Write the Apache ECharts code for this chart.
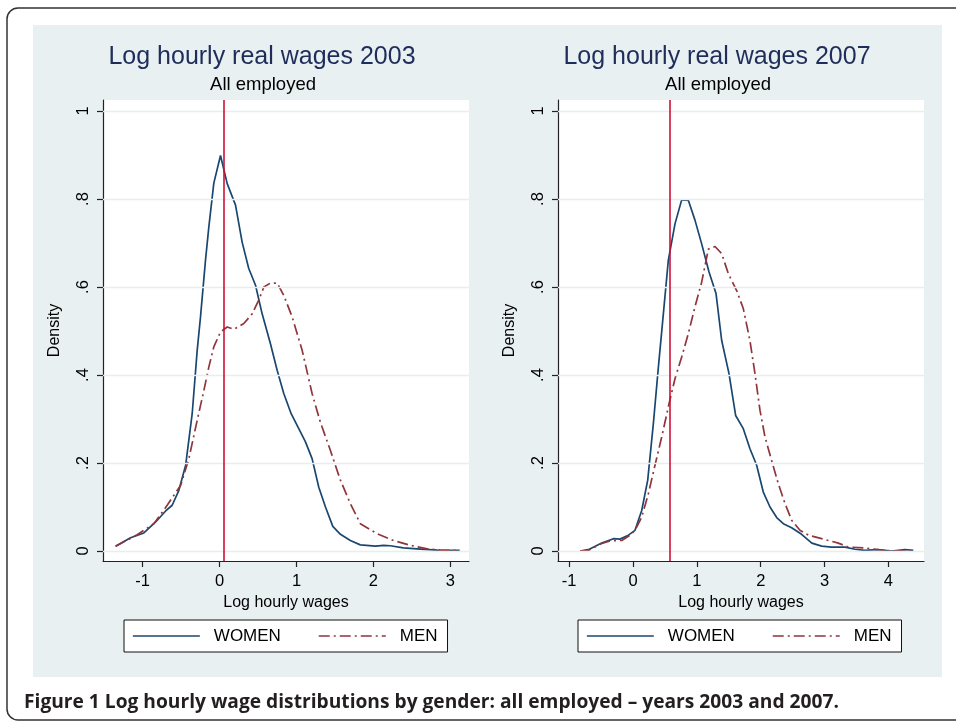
<!DOCTYPE html>
<html>
<head>
<meta charset="utf-8">
<script src="https://cdn.jsdelivr.net/npm/echarts@6/dist/echarts.min.js"></script>
<style>
html,body{margin:0;padding:0;background:#fff;}
#chart{width:956px;height:723px;}
</style>
</head>
<body>
<div id="chart"></div>
<script>
// ---- Data ----
const women2003X = [-1.35,-1.156,-0.983,-0.83,-0.70,-0.615,-0.528,-0.44,-0.355,-0.29,-0.247,-0.182,-0.139,-0.074,0.013,0.10,0.208,0.294,0.38,0.468,0.554,0.662,0.749,0.835,0.931,1.03,1.117,1.203,1.29,1.377,1.472,1.571,1.70,1.83,2.026,2.134,2.22,2.39,2.61,2.83,3.12];
const women2003Y = [0.011,0.030,0.041,0.066,0.091,0.104,0.138,0.195,0.312,0.456,0.532,0.661,0.736,0.836,0.899,0.835,0.786,0.702,0.642,0.604,0.539,0.471,0.411,0.358,0.312,0.278,0.248,0.210,0.145,0.100,0.056,0.038,0.024,0.014,0.011,0.013,0.012,0.007,0.0045,0.002,0.0015];
const men2003X = [-1.35,-1.07,-0.853,-0.68,-0.506,-0.398,-0.29,-0.203,-0.139,-0.074,0.013,0.10,0.186,0.316,0.424,0.51,0.576,0.662,0.749,0.835,0.944,1.074,1.203,1.31,1.44,1.571,1.70,1.83,2.05,2.26,2.48,2.70,2.87,3.12];
const men2003Y = [0.011,0.037,0.062,0.104,0.149,0.210,0.297,0.365,0.418,0.464,0.498,0.509,0.504,0.517,0.539,0.570,0.600,0.609,0.609,0.581,0.532,0.456,0.358,0.293,0.229,0.161,0.108,0.062,0.039,0.024,0.013,0.005,0.002,0.0015];
const women2007X = [-0.83,-0.70,-0.49,-0.308,-0.204,-0.073,0.031,0.136,0.23,0.318,0.397,0.475,0.553,0.658,0.762,0.866,0.97,1.075,1.19,1.30,1.388,1.503,1.607,1.727,1.83,1.936,2.04,2.145,2.25,2.354,2.484,2.64,2.80,2.954,3.11,3.32,3.476,3.63,3.84,4.05,4.26,4.39];
const women2007Y = [0.0,0.003,0.018,0.028,0.027,0.036,0.047,0.092,0.161,0.289,0.418,0.539,0.661,0.744,0.798,0.797,0.752,0.698,0.634,0.585,0.479,0.403,0.308,0.278,0.233,0.195,0.134,0.100,0.076,0.062,0.053,0.038,0.018,0.011,0.009,0.009,0.004,0.0015,0.003,0.0,0.003,0.0015];
const men2007X = [-0.83,-0.70,-0.49,-0.36,-0.177,-0.047,0.031,0.136,0.24,0.344,0.449,0.564,0.658,0.762,0.866,0.97,1.075,1.18,1.284,1.388,1.493,1.623,1.727,1.83,1.91,1.988,2.067,2.17,2.275,2.38,2.484,2.614,2.745,2.954,3.215,3.37,3.63,3.84,4.05,4.39];
const men2007Y = [0.0,0.0015,0.017,0.023,0.024,0.036,0.047,0.077,0.130,0.195,0.259,0.335,0.392,0.441,0.494,0.555,0.611,0.686,0.692,0.676,0.630,0.592,0.551,0.479,0.403,0.320,0.259,0.206,0.153,0.108,0.070,0.047,0.036,0.028,0.018,0.009,0.007,0.003,0.0,0.0];
const xTicks2003 = [-1, 0, 1, 2, 3];
const xTicks2007 = [-1, 0, 1, 2, 3, 4];
const yTicks = [0, 0.2, 0.4, 0.6, 0.8, 1];
const refLines = [0.052, 0.58];
const panelTitles = ['Log hourly real wages 2003', 'Log hourly real wages 2007'];
const panelSubtitle = 'All employed';
const seriesNames = ['WOMEN', 'MEN'];
const xAxisTitle = 'Log hourly wages';
const yAxisTitle = 'Density';
const caption = 'Figure 1 Log hourly wage distributions by gender: all employed \u2013 years 2003 and 2007.';

// ---- Styling ----
const FONT = '"Liberation Sans", Arial, Helvetica, sans-serif';
const WOMEN_COLOR = '#1a476f';
const MEN_COLOR = '#90353b';
const REF_COLOR = '#cc1236';
const AXIS_COLOR = '#222';
const GRID_COLOR = '#e6eef0';
const zip = (xs, ys) => xs.map((x, i) => [x, ys[i]]);
const yFmt = v => (v === 0 ? '0' : v === 1 ? '1' : String(Math.round(v * 10) / 10).replace(/^0\./, '.'));

const grids = [
  {left: 103, top: 100, width: 366, height: 461},
  {left: 558, top: 100, width: 366, height: 461}
];
const xRanges = [[-1.514, 3.242], [-1.175, 4.557]];
const xTicksAll = [xTicks2003, xTicks2007];

function makeX(i) {
  return {
    gridIndex: i, type: 'value', min: xRanges[i][0], max: xRanges[i][1],
    axisLine: {onZero: false, lineStyle: {color: AXIS_COLOR, width: 1.2}},
    axisTick: {length: 6, customValues: xTicksAll[i], lineStyle: {color: AXIS_COLOR, width: 1.2}},
    axisLabel: {customValues: xTicksAll[i], margin: 12, fontSize: 16.5, color: '#000', fontFamily: FONT},
    splitLine: {show: false},
    name: xAxisTitle, nameLocation: 'middle', nameGap: 31,
    nameTextStyle: {fontSize: 16, color: '#000', fontFamily: FONT}
  };
}
function makeY(i) {
  return {
    gridIndex: i, type: 'value', min: -0.0227, max: 1.025,
    axisLine: {onZero: false, lineStyle: {color: AXIS_COLOR, width: 1.2}},
    axisTick: {length: 6, customValues: yTicks, lineStyle: {color: AXIS_COLOR, width: 1.2}},
    axisLabel: {customValues: yTicks, formatter: yFmt, rotate: 90, margin: 11, fontSize: 16.5, color: '#000', fontFamily: FONT},
    splitLine: {show: false},
    name: yAxisTitle, nameLocation: 'middle', nameGap: 40,
    nameTextStyle: {fontSize: 16, color: '#000', fontFamily: FONT}
  };
}

function gridSeries(i) {
  return {
    type: 'line', name: 'grid' + i, xAxisIndex: i, yAxisIndex: i, data: [], z: 1,
    silent: true, animation: false,
    markLine: {
      silent: true, symbol: ['none', 'none'], animation: false, label: {show: false},
      lineStyle: {color: GRID_COLOR, width: 1.4, type: 'solid'},
      data: yTicks.map(v => ({yAxis: v}))
    }
  };
}
function curve(i, name, data, color, dash) {
  return {
    type: 'line', name, xAxisIndex: i, yAxisIndex: i, data, symbol: 'none', showSymbol: false,
    animation: false, z: 3,
    lineStyle: {color, width: 1.7, type: dash || 'solid'},
    itemStyle: {color}
  };
}
function refSeries(i) {
  return {
    type: 'line', name: 'ref' + i, xAxisIndex: i, yAxisIndex: i, data: [], z: 4,
    silent: true, animation: false,
    markLine: {
      silent: true, symbol: ['none', 'none'], animation: false, label: {show: false},
      lineStyle: {color: REF_COLOR, width: 1.6, type: 'solid'},
      data: [{xAxis: refLines[i]}]
    }
  };
}
const DASHDOT = [11, 4, 2, 4];

function legendFor(left) {
  return {
    data: seriesNames, left, top: 620, orient: 'horizontal',
    backgroundColor: '#fff', borderColor: '#111', borderWidth: 1, borderRadius: 0,
    padding: [7, 10, 7, 8], itemWidth: 67, itemHeight: 14, itemGap: 37,
    selectedMode: false,
    itemStyle: {color: 'rgba(0,0,0,0)', borderColor: 'rgba(0,0,0,0)', borderWidth: 0, opacity: 0},
    lineStyle: {width: 1.7},
    textStyle: {fontSize: 17, color: '#000', fontFamily: FONT, padding: [0, 0, 0, 9], lineHeight: 18}
  };
}

function textEl(x, y, text, size, color, weight, align, family) {
  return {
    type: 'text', x, y, silent: true, z: 10,
    style: {text, fontSize: size, fill: color, fontWeight: weight || 'normal',
      fontFamily: family || FONT, textAlign: align || 'center', textVerticalAlign: 'middle'}
  };
}

const option = {
  backgroundColor: '#fff',
  animation: false,
  grid: grids.map(g => Object.assign({show: true, backgroundColor: '#fff', borderWidth: 0, containLabel: false}, g)),
  xAxis: [makeX(0), makeX(1)],
  yAxis: [makeY(0), makeY(1)],
  legend: [legendFor(124), legendFor(578)],
  graphic: [
    {type: 'rect', z: -10, silent: true, shape: {x: 7, y: 8, width: 970, height: 712, r: 11},
      style: {fill: '#fff', stroke: '#333', lineWidth: 1.5}},
    {type: 'rect', z: -9, silent: true, shape: {x: 33, y: 25, width: 909, height: 652},
      style: {fill: '#e9f0f2'}},
    textEl(262, 57.5, panelTitles[0], 25, '#1e2d5a'),
    textEl(717, 57.5, panelTitles[1], 25, '#1e2d5a'),
    textEl(263, 85, panelSubtitle, 18.5, '#000'),
    textEl(718, 85, panelSubtitle, 18.5, '#000'),
    textEl(24, 703, caption, 19.2, '#231f20', 'bold', 'left', '"Open Sans", "Noto Sans", sans-serif')
  ],
  series: [
    gridSeries(0), gridSeries(1),
    curve(0, seriesNames[0], zip(women2003X, women2003Y), WOMEN_COLOR),
    curve(0, seriesNames[1], zip(men2003X, men2003Y), MEN_COLOR, DASHDOT),
    curve(1, seriesNames[0], zip(women2007X, women2007Y), WOMEN_COLOR),
    curve(1, seriesNames[1], zip(men2007X, men2007Y), MEN_COLOR, DASHDOT),
    refSeries(0), refSeries(1)
  ]
};

const chart = echarts.init(document.getElementById('chart'), null, {renderer: 'canvas'});
chart.setOption(option);
</script>
</body>
</html>
